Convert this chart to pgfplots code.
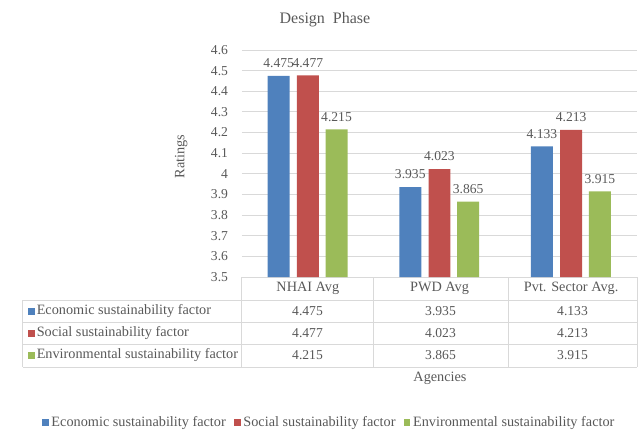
\documentclass[border=0pt]{standalone}
\usepackage{fontspec}
\setmainfont{Liberation Serif}
\usepackage{pgfplots}
\pgfplotsset{compat=1.18}
\usetikzlibrary{calc}
\definecolor{cblue}{HTML}{4F81BD}
\definecolor{cred}{HTML}{C0504D}
\definecolor{cgreen}{HTML}{9BBB59}
\definecolor{gridc}{HTML}{D9D9D9}
\definecolor{txt}{HTML}{595959}
\newcommand{\fs}{\fontsize{10.2}{12}\selectfont}
\newcommand{\ft}{\fontsize{10.7}{12.5}\selectfont}
\pgfplotsset{sqlegend/.style={legend image code/.code={\fill[##1] (3pt,-2.6pt) rectangle (8.2pt,2.6pt);}}}
\begin{document}
\begin{tikzpicture}
\begin{axis}[
  scale only axis, width=296.25pt, height=170.25pt,
  xmin=-0.5, xmax=2.5, ymin=3.5, ymax=4.6,
  ytick={3.5,3.6,3.7,3.8,3.9,4,4.1,4.2,4.3,4.4,4.5,4.6},
  ymajorgrids, grid style={gridc, line width=0.75pt},
  axis line style={draw=none},
  major tick length=0pt,
  xtick={0,1,2}, xticklabels={NHAI Avg, PWD Avg, Pvt. Sector Avg.},
  xticklabel style={anchor=center, yshift=-8.5pt, font=\ft},
  yticklabel style={xshift=-7pt},
  ticklabel style={font=\fs, text=txt},
  /pgf/number format/assume math mode=true,
  ybar, bar width=0.167,
  nodes near coords={\pgfmathprintnumber[fixed,precision=3]{\pgfplotspointmeta}},
  every node near coord/.append style={font=\fs, text=txt, yshift=2.5pt, /pgf/number format/assume math mode=true},
  clip=false,
  title={Design\ \ Phase},
  title style={at={(axis description cs:0.21,1.141)}, anchor=center, yshift=-7pt, font=\fontsize{12}{14}\selectfont, text=txt},
  ylabel={Ratings},
  ylabel style={at={(axis description cs:-0.154,0.53)}, anchor=center, font=\ft, text=txt},
  legend columns=3,
  legend style={at={(axis description cs:0.2215,-0.64)}, anchor=center, draw=none, font=\ft, text=txt,
    /tikz/every even column/.append style={column sep=4pt}},
]
\addplot[fill=cblue, draw=none, bar shift=-0.222, sqlegend] coordinates {(0,4.475) (1,3.935) (2,4.133)};
\addplot[fill=cred, draw=none, bar shift=0, sqlegend] coordinates {(0,4.477) (1,4.023) (2,4.213)};
\addplot[fill=cgreen, draw=none, bar shift=0.218, sqlegend] coordinates {(0,4.215) (1,3.865) (2,3.915)};
\legend{Economic sustainability factor, Social sustainability factor, Environmental sustainability factor}
\coordinate (O) at (rel axis cs:0,0);
\end{axis}
\begin{scope}[shift={(O)}, x=0.75pt, y=0.75pt]
  \draw[gridc, line width=0.75pt] (-219,-23) -- (395,-23);
  \draw[gridc, line width=0.75pt] (-219,-45) -- (395,-45);
  \draw[gridc, line width=0.75pt] (-219,-67) -- (395,-67);
  \draw[gridc, line width=0.75pt] (-219,-90) -- (395,-90);
  \draw[gridc, line width=0.75pt] (-219,-23) -- (-219,-90);
  \draw[gridc, line width=0.75pt] (0,0) -- (0,-90);
  \draw[gridc, line width=0.75pt] (131,0) -- (131,-90);
  \draw[gridc, line width=0.75pt] (266,0) -- (266,-90);
  \draw[gridc, line width=0.75pt] (395,0) -- (395,-90);
  \fill[cblue] (-214,-37.5) rectangle (-207,-30.5);
  \fill[cred] (-214,-59.5) rectangle (-207,-52.5);
  \fill[cgreen] (-214,-81.5) rectangle (-207,-74.5);
  \node[anchor=west, inner sep=0pt, font=\ft, text=txt] at (-205.5,-34) {Economic sustainability factor};
  \node[anchor=west, inner sep=0pt, font=\ft, text=txt] at (-205.5,-56) {Social sustainability factor};
  \node[anchor=west, inner sep=0pt, font=\ft, text=txt] at (-205.5,-78) {Environmental sustainability factor};
  \foreach \x/\a/\b/\c in {65.5/4.475/4.477/4.215, 198.5/3.935/4.023/3.865, 330.5/4.133/4.213/3.915}{
    \node[font=\fs, text=txt] at (\x,-34) {\a};
    \node[font=\fs, text=txt] at (\x,-56) {\b};
    \node[font=\fs, text=txt] at (\x,-78) {\c};
  }
  \node[font=\ft, text=txt] at (198,-101) {Agencies};
\end{scope}
\pgfresetboundingbox
\path[use as bounding box] ($(O)+(-181.5pt,-114pt)$) rectangle ($(O)+(297.75pt,207.75pt)$);
\end{tikzpicture}
\end{document}
